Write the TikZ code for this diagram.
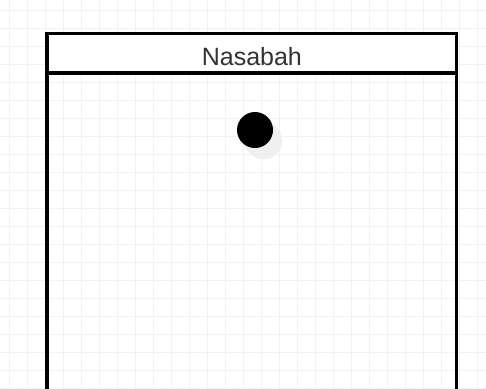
\documentclass[tikz,border=0pt]{standalone}
\usepackage{fontspec}
\setmainfont{Liberation Sans}
\usepackage{xcolor}
\usepackage{tikz}
\usetikzlibrary{positioning,calc,shadows}
\definecolor{cGridLine}{HTML}{F2F2F2}
\definecolor{cShadow}{HTML}{F0F0F0}
\definecolor{cText}{HTML}{333333}
\tikzset{
  gridline/.style={draw=cGridLine, line width=0.9pt},
  lanehead/.style={draw=black, fill=white, line width=3.5pt, outer sep=0pt,
                   minimum width=409.7pt, minimum height=39.3pt, text=cText,
                   font=\fontsize{25}{30}\selectfont, text height=23.3pt, text depth=0pt},
  laneside/.style={draw=black, line width=3.5pt},
  startdot/.style={circle, fill=black, minimum size=36pt, inner sep=0pt,
                   drop shadow={shadow xshift=8pt, shadow yshift=-10pt, shadow scale=1.05,
                                fill=cShadow, opacity=1}},
}
\begin{document}
\begin{tikzpicture}[x=1pt, y=-1pt]
  \useasboundingbox (0,0) rectangle (486,388);
  % background grid
  \foreach \gx in {9,27,...,477} \draw[gridline] (\gx,0) -- (\gx,388);
  \foreach \gy in {10,28,...,388} \draw[gridline] (0,\gy) -- (486,\gy);
  % swimlane --- header then the open sides
  \node[lanehead] (head) at (251.85,53.35) {Nasabah};
  \coordinate (laneL) at ($(head.south west)+(0,330)$);
  \coordinate (laneR) at ($(head.south east)+(0,330)$);
  \draw[laneside] (head.south west) -- (laneL);
  \draw[laneside] (head.south east) -- (laneR);
  % initial state
  \node[startdot] (init) at (255,130) {};
\end{tikzpicture}
\end{document}
